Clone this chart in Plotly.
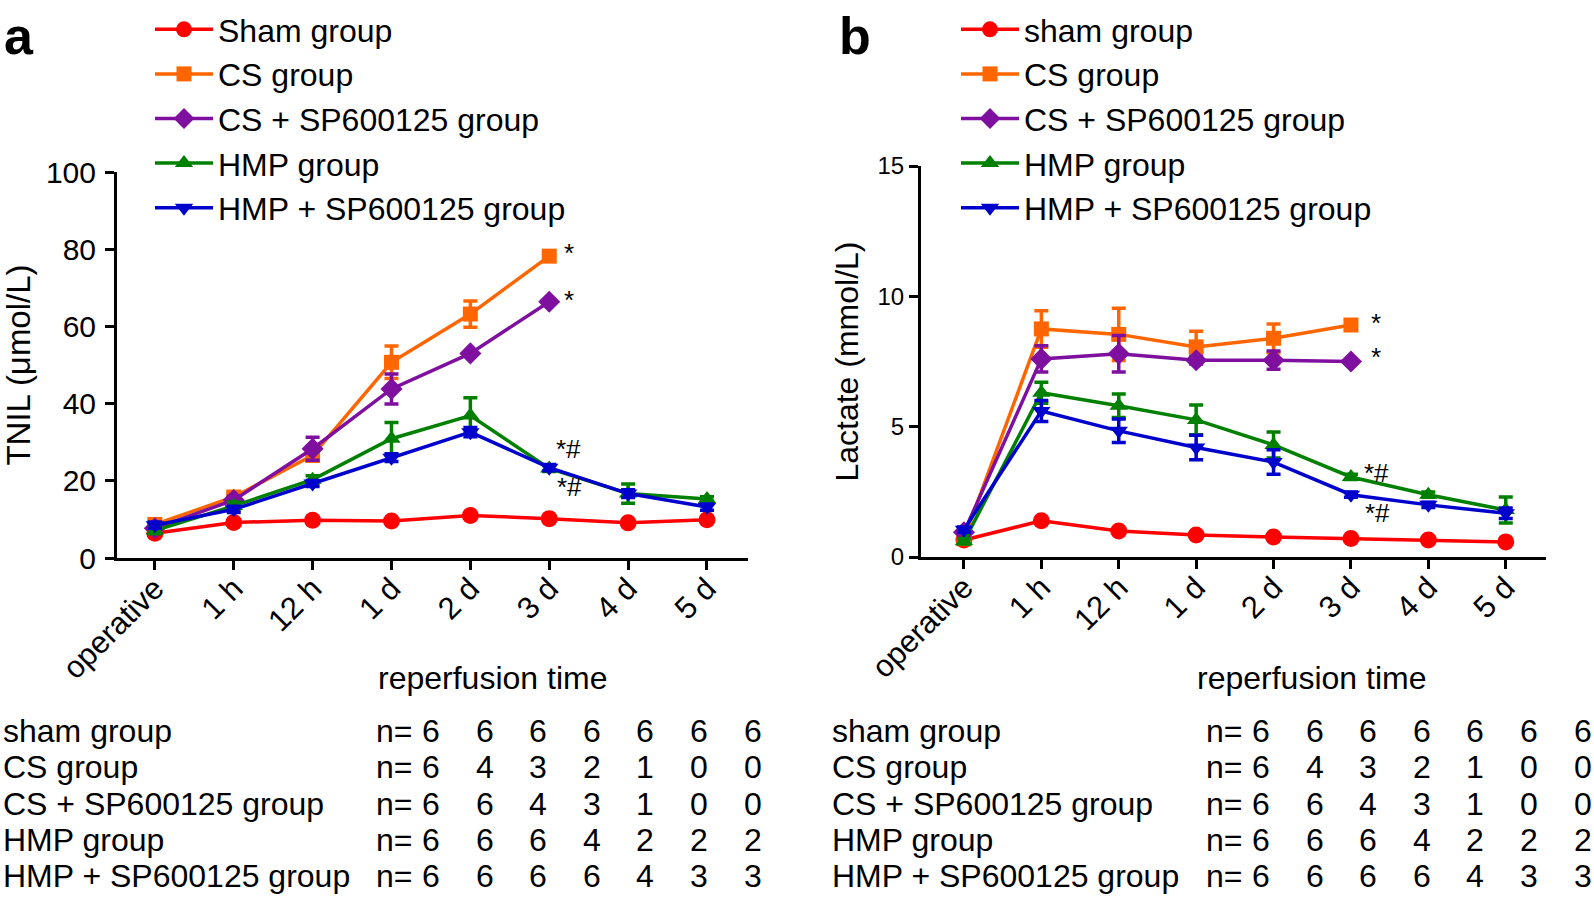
import plotly.graph_objects as go

W, H = 1594, 899
FONT = "Liberation Sans, Arial, sans-serif"

times = ["operative", "1 h", "12 h", "1 d", "2 d", "3 d", "4 d", "5 d"]
x_pos = list(range(len(times)))

groups_a = ["Sham group", "CS group", "CS + SP600125 group", "HMP group", "HMP + SP600125 group"]
groups_b = ["sham group", "CS group", "CS + SP600125 group", "HMP group", "HMP + SP600125 group"]
colors = ["#ff0000", "#ff6600", "#7f0f9f", "#008000", "#0000cc"]
symbols = ["circle", "square", "diamond", "triangle-up", "triangle-down"]
sizes = [17, 15, 17, 16, 16]

# panel a: TNIL (umol/L)
tnil_sham = [6.4, 9.2, 9.8, 9.6, 11.0, 10.2, 9.1, 9.9]
tnil_sham_err = [0.5, 0.5, 0.5, 0.5, 0.5, 0.5, 0.5, 0.5]
tnil_cs = [8.7, 15.8, 26.6, 50.7, 63.2, 78.2]
tnil_cs_err = [1.0, 1.2, 1.5, 4.2, 3.4, 0]
tnil_cs_sp = [7.7, 15.0, 28.3, 43.8, 53.0, 66.4]
tnil_cs_sp_err = [0.8, 1.0, 3.0, 3.9, 0, 0]
tnil_hmp = [7.1, 13.5, 20.3, 30.9, 36.9, 23.2, 16.7, 15.3]
tnil_hmp_err = [0.8, 1.0, 1.0, 4.2, 4.6, 0.8, 2.5, 0.6]
tnil_hmp_sp = [8.5, 12.6, 19.3, 26.0, 32.6, 23.4, 16.7, 13.2]
tnil_hmp_sp_err = [0.8, 0.8, 0.8, 1.0, 1.2, 0.8, 1.0, 0.8]

# panel b: Lactate (mmol/L)
lac_sham = [0.65, 1.39, 1.0, 0.84, 0.77, 0.71, 0.65, 0.58]
lac_sham_err = [0.05, 0.08, 0.06, 0.05, 0.05, 0.05, 0.05, 0.05]
lac_cs = [0.7, 8.75, 8.54, 8.06, 8.39, 8.9]
lac_cs_err = [0.1, 0.7, 1.0, 0.6, 0.55, 0]
lac_cs_sp = [0.95, 7.6, 7.8, 7.55, 7.55, 7.5]
lac_cs_sp_err = [0.1, 0.5, 0.7, 0.15, 0.35, 0]
lac_hmp = [0.6, 6.3, 5.8, 5.26, 4.3, 3.07, 2.39, 1.8]
lac_hmp_err = [0.1, 0.4, 0.45, 0.57, 0.5, 0.1, 0.1, 0.5]
lac_hmp_sp = [1.05, 5.6, 4.84, 4.2, 3.64, 2.39, 2.0, 1.68]
lac_hmp_sp_err = [0.1, 0.4, 0.45, 0.47, 0.47, 0.1, 0.1, 0.2]

tnil = [(tnil_sham, tnil_sham_err), (tnil_cs, tnil_cs_err), (tnil_cs_sp, tnil_cs_sp_err),
        (tnil_hmp, tnil_hmp_err), (tnil_hmp_sp, tnil_hmp_sp_err)]
lac = [(lac_sham, lac_sham_err), (lac_cs, lac_cs_err), (lac_cs_sp, lac_cs_sp_err),
       (lac_hmp, lac_hmp_err), (lac_hmp_sp, lac_hmp_sp_err)]

# n per group at each time (table under the plots)
table_rows = ["sham group", "CS group", "CS + SP600125 group", "HMP group", "HMP + SP600125 group"]
n_sham = [6, 6, 6, 6, 6, 6, 6]
n_cs = [6, 4, 3, 2, 1, 0, 0]
n_cs_sp = [6, 6, 4, 3, 1, 0, 0]
n_hmp = [6, 6, 6, 4, 2, 2, 2]
n_hmp_sp = [6, 6, 6, 6, 4, 3, 3]
n_table = [n_sham, n_cs, n_cs_sp, n_hmp, n_hmp_sp]

# significance marks at 3 d: (series index, text)
marks = [(1, "*"), (2, "*"), (3, "*#"), (4, "*#")]


def px(x):
    return x / W


def py(y):
    return 1 - y / H


fig = go.Figure()

for i in range(5):
    for data, name, xa, ya, leg in [(tnil, groups_a[i], "x", "y", "legend"),
                                    (lac, groups_b[i], "x2", "y2", "legend2")]:
        vals, errs = data[i]
        fig.add_trace(go.Scatter(
            x=x_pos[:len(vals)], y=vals,
            mode="lines+markers",
            name=name,
            legend=leg,
            legendgroup=f"{leg}_{i}",
            xaxis=xa, yaxis=ya,
            line=dict(color=colors[i], width=3.5),
            marker=dict(color=colors[i], symbol=symbols[i], size=sizes[i]),
            error_y=dict(type="data", array=errs, visible=True,
                         color=colors[i], thickness=3.5, width=7),
            cliponaxis=False,
        ))

axis_common = dict(
    showline=True, linecolor="black", linewidth=3,
    ticks="outside", ticklen=9, tickwidth=3, tickcolor="black",
    showgrid=False, zeroline=False, automargin=False,
)
xtick_font = dict(family=FONT, size=31, color="black")

fig.update_layout(
    width=W, height=H,
    margin=dict(l=0, r=0, t=0, b=0, autoexpand=False),
    paper_bgcolor="white", plot_bgcolor="white",
    font=dict(family=FONT, color="black"),
    xaxis=dict(domain=[px(117), px(748)], range=[-0.48, 7.52], anchor="y",
               tickvals=x_pos, ticktext=times, tickangle=-45, tickfont=xtick_font,
               ticklabelstandoff=-12, **axis_common),
    yaxis=dict(domain=[py(558), py(172)], range=[0, 100], anchor="x",
               tickvals=[0, 20, 40, 60, 80, 100],
               tickfont=dict(family=FONT, size=30, color="black"), ticklabelstandoff=3,
               title=dict(text="TNIL (μmol/L)", font=dict(size=33), standoff=16),
               **axis_common),
    xaxis2=dict(domain=[px(921), px(1546)], range=[-0.555, 7.52], anchor="y2",
                tickvals=x_pos, ticktext=times, tickangle=-45, tickfont=xtick_font,
                ticklabelstandoff=-12, **axis_common),
    yaxis2=dict(domain=[py(557), py(166)], range=[0, 15], anchor="x2",
                tickvals=[0, 5, 10, 15],
                tickfont=dict(family=FONT, size=24, color="black"), ticklabelstandoff=0,
                title=dict(text="Lactate (mmol/L)", font=dict(size=32), standoff=10),
                **axis_common),
    legend=dict(x=px(150), y=py(2), xanchor="left", yanchor="top",
                font=dict(family=FONT, size=32), itemwidth=58,
                traceorder="grouped", tracegroupgap=0, bgcolor="rgba(0,0,0,0)"),
    legend2=dict(x=px(956), y=py(2), xanchor="left", yanchor="top",
                 font=dict(family=FONT, size=32), itemwidth=58,
                 traceorder="grouped", tracegroupgap=0, bgcolor="rgba(0,0,0,0)"),
)

ann = []
# panel letters
ann.append(dict(text="<b>a</b>", x=px(2), y=py(36), xref="paper", yref="paper",
                xanchor="left", yanchor="middle", showarrow=False, font=dict(size=52)))
ann.append(dict(text="<b>b</b>", x=px(837), y=py(36), xref="paper", yref="paper",
                xanchor="left", yanchor="middle", showarrow=False, font=dict(size=52)))

# significance marks
for xa, ya, data, shifts in [("x", "y", tnil, [(20, 3), (20, 2), (19, 19), (20, -19)]),
                             ("x2", "y2", lac, [(25, 2), (25, 5), (26, 4), (27, -18)])]:
    for (idx, txt), (dx, dy) in zip(marks, shifts):
        ann.append(dict(text=txt, x=5, y=data[idx][0][5], xref=xa, yref=ya,
                        xanchor="center", yanchor="middle", showarrow=False,
                        xshift=dx, yshift=dy, font=dict(size=26)))

# reperfusion time labels
ann.append(dict(text="reperfusion time", x=px(492), y=py(678), xref="paper", yref="paper",
                xanchor="center", yanchor="middle", showarrow=False, font=dict(size=32)))
ann.append(dict(text="reperfusion time", x=px(1311), y=py(678), xref="paper", yref="paper",
                xanchor="center", yanchor="middle", showarrow=False, font=dict(size=32)))

# n tables
row_y = [731, 767, 804, 840, 876]
for x_label, x_n, x_first, step in [(1, 414, 431, 53.6), (830, 1244, 1261, 53.6)]:
    for r, (label, counts) in enumerate(zip(table_rows, n_table)):
        yy = py(row_y[r])
        ann.append(dict(text=label, x=px(x_label), y=yy, xref="paper", yref="paper",
                        xanchor="left", yanchor="middle", showarrow=False, font=dict(size=32)))
        ann.append(dict(text="n=", x=px(x_n), y=yy, xref="paper", yref="paper",
                        xanchor="right", yanchor="middle", showarrow=False, font=dict(size=32)))
        for k, c in enumerate(counts):
            ann.append(dict(text=str(c), x=px(x_first + step * k), y=yy, xref="paper", yref="paper",
                            xanchor="center", yanchor="middle", showarrow=False,
                            font=dict(size=32)))

fig.update_layout(annotations=ann)

# drop the default 8px body margin so the figure fills the window
fig.write_html("out.html", config={"displayModeBar": False},
               post_script="document.body.style.margin='0px';")
